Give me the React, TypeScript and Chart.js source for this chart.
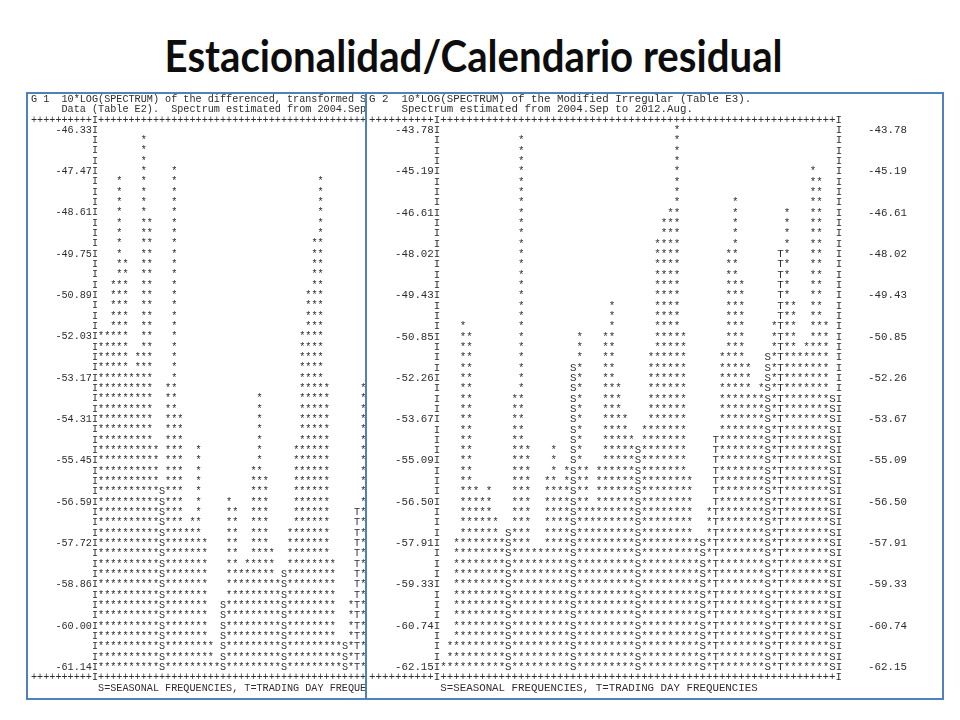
import React, { useEffect, useRef } from 'react';
import { Chart, registerables } from 'chart.js';

Chart.register(...registerables);

// ---------------- data ----------------
// frequency index k (frequency = k/120 cycles per month), 61 points 0..60
const frequencyIndex: number[] = Array.from({ length: 61 }, (_, k) => k);
const seasonalCols: number[] = [10, 20, 30, 40, 50, 60];
const tradingDayCols: number[] = [42, 52];

// G 1: 10*LOG(SPECTRUM) of the differenced, transformed seasonally adjusted data (Table E2)
const e2Spectrum: number[] = [
  -52.03, -52.03, -50.6, -47.75, -50.03, -53.17, -52.6, -46.61, -48.89, -55.16,
  -56.3, -53.45, -47.47, -54.3, -57.44, -57.15, -55.16, -57.72, -60.57, -61.14,
  -59.43, -56.58, -56.87, -58.58, -58.29, -55.73, -53.74, -56.01, -58.01, -58.86,
  -58.58, -57.44, -55.16, -52.03, -50.89, -49.46, -47.75, -53.45, -58.29, -60.57,
  -60.57, -59.43, -56.87, -53.45, -54.87, -54.3, -56.3, -57.72, -58.86, -58.29,
  -57.15, -57.72, -54.87, -55.73, -57.15, -59.15, -59.72, -57.72, -56.58, -58.29,
  -59.43,
];
const e2Ticks: string[] = [
  '-46.33', '-47.47', '-48.61', '-49.75', '-50.89', '-52.03', '-53.17',
  '-54.31', '-55.45', '-56.59', '-57.72', '-58.86', '-60.00', '-61.14',
];

// G 2: 10*LOG(SPECTRUM) of the Modified Irregular (Table E3)
const e3Spectrum: number[] = [
  -62.15, -61.44, -57.91, -50.49, -50.85, -56.14, -56.5, -56.14, -57.2, -57.91,
  -57.56, -52.97, -44.13, -54.73, -58.26, -58.26, -55.79, -54.73, -56.14, -55.44,
  -51.91, -50.85, -55.44, -56.85, -55.44, -50.85, -49.79, -52.61, -53.67, -54.38,
  -54.73, -54.02, -51.55, -47.67, -46.96, -46.61, -43.78, -50.85, -55.79, -57.91,
  -57.91, -56.85, -54.38, -51.55, -48.02, -46.25, -49.08, -51.91, -52.97, -52.61,
  -51.55, -50.49, -48.02, -46.61, -49.79, -51.55, -51.2, -45.19, -45.55, -50.49,
  -52.97,
];
const e3Ticks: string[] = [
  '-43.78', '-45.19', '-46.61', '-48.02', '-49.43', '-50.85', '-52.26',
  '-53.67', '-55.09', '-56.50', '-57.91', '-59.33', '-60.74', '-62.15',
];

const e2Header: string[] = [
  'G 1  10*LOG(SPECTRUM) of the differenced, transformed Seasonally Adjusted',
  '     Data (Table E2).  Spectrum estimated from 2004.Sep to 2012.Aug.',
];
const e3Header: string[] = [
  'G 2  10*LOG(SPECTRUM) of the Modified Irregular (Table E3).',
  '     Spectrum estimated from 2004.Sep to 2012.Aug.',
];
const footerText = '           S=SEASONAL FREQUENCIES, T=TRADING DAY FREQUENCIES';

// ---------------- layout constants ----------------
const RH = 10.33; // text row height
const ROWS = 53;
const CANVAS_H = Math.round(RH * 58);
const MONO = '"Liberation Mono", "DejaVu Sans Mono", monospace';
const INK = '#2e2e2e';
const BORDER = '#4f81bd';

const plusLine = '++++++++++I' + '+'.repeat(61) + 'I';

type PanelSpec = {
  values: number[];
  ticks: string[];
  header: string[];
  cw: number; // character pitch of this screenshot
};

function SpectrumPanel({ spec, left, top }: { spec: PanelSpec; left: number; top: number }) {
  const ref = useRef<HTMLCanvasElement>(null);
  const canvasW = Math.round(spec.cw * 83);

  useEffect(() => {
    const canvas = ref.current;
    if (!canvas) return;
    const CW = canvasW / 83;
    const fontPx = CW / 0.6;
    const topLevel = parseFloat(spec.ticks[0]);
    const bottomLevel = parseFloat(spec.ticks[spec.ticks.length - 1]);
    const step = (topLevel - bottomLevel) / (ROWS - 1);
    const tickValues = spec.ticks.map((_, i) => topLevel - i * 4 * step);
    const marks = frequencyIndex.map((k) =>
      seasonalCols.includes(k) ? 'S' : tradingDayCols.includes(k) ? 'T' : '*'
    );
    const font = { family: MONO, size: fontPx, lineHeight: RH + 'px' };

    const asciiPlugin = {
      id: 'asciiColumns',
      afterDatasetsDraw(chart: any) {
        const { ctx, chartArea, scales } = chart;
        const yScale = scales.y;
        const meta = chart.getDatasetMeta(0);
        const data = chart.data.datasets[0].data as number[];
        ctx.save();
        ctx.font = `${fontPx}px ${MONO}`;
        ctx.fillStyle = INK;
        ctx.textAlign = 'center';
        ctx.textBaseline = 'middle';
        for (let r = 0; r < ROWS; r++) {
          const level = topLevel - r * step;
          const py = yScale.getPixelForValue(level);
          ctx.fillText('I', chartArea.left - CW / 2, py);
          ctx.fillText('I', chartArea.right + CW / 2, py);
          meta.data.forEach((el: any, i: number) => {
            if (level <= data[i] + step / 2) ctx.fillText(marks[i], el.x, py);
          });
        }
        ctx.restore();
      },
    };

    const yAxis = (position: 'left' | 'right', ticks: string[]) => ({
      type: 'linear' as const,
      position,
      min: bottomLevel - step / 2,
      max: topLevel + step / 2,
      grid: { display: false, drawTicks: false },
      border: { display: false },
      ticks: {
        autoSkip: false,
        padding: CW,
        font,
        color: INK,
        callback: (_v: any, i: number) => (position === 'left' ? ticks[i] : '    ' + ticks[i]),
      },
      afterBuildTicks: (scale: any) => {
        scale.ticks = tickValues.map((value) => ({ value }));
      },
      afterFit: (scale: any) => {
        scale.width = 11 * CW;
      },
    });

    const chart = new Chart(canvas, {
      type: 'bar',
      data: {
        labels: frequencyIndex.map(String),
        datasets: [
          {
            data: spec.values,
            backgroundColor: 'rgba(0,0,0,0)',
            borderWidth: 0,
            yAxisID: 'y',
          },
        ],
      },
      options: {
        animation: false,
        responsive: false,
        events: [],
        layout: { padding: 0 },
        scales: {
          x: { type: 'category', display: false, offset: true },
          y: yAxis('left', spec.ticks) as any,
          y2: yAxis('right', spec.ticks) as any,
        },
        plugins: {
          legend: { display: false },
          tooltip: { enabled: false },
          title: {
            display: true,
            text: [...spec.header, plusLine],
            align: 'start',
            color: INK,
            font: { ...font, weight: 'normal' as const },
            padding: 0,
          },
          subtitle: {
            display: true,
            position: 'bottom',
            text: [plusLine, footerText],
            align: 'start',
            color: INK,
            font: { ...font, weight: 'normal' as const },
            padding: 0,
          },
        },
      },
      plugins: [asciiPlugin],
    });
    return () => chart.destroy();
  }, [spec, canvasW]);

  return (
    <canvas
      ref={ref}
      width={canvasW}
      height={CANVAS_H}
      style={{ position: 'absolute', left, top, width: canvasW, height: CANVAS_H }}
    />
  );
}

const e2Spec: PanelSpec = { values: e2Spectrum, ticks: e2Ticks, header: e2Header, cw: 6.1 };
const e3Spec: PanelSpec = { values: e3Spectrum, ticks: e3Ticks, header: e3Header, cw: 6.48 };

export default function App() {
  const titleRef = useRef<HTMLSpanElement>(null);
  useEffect(() => {
    const el = titleRef.current;
    if (!el) return;
    const w = el.getBoundingClientRect().width;
    if (w > 0) el.style.transform = `scaleX(${618 / w})`;
  }, []);

  return (
    <div
      style={{
        position: 'fixed',
        left: 0,
        top: 0,
        width: 960,
        height: 720,
        background: '#ffffff',
        overflow: 'hidden',
      }}
    >
      <div
        style={{
          position: 'absolute',
          left: 0,
          top: 34,
          width: 948,
          textAlign: 'center',
          fontFamily: 'Lato, "Open Sans", sans-serif',
          fontWeight: 700,
          fontSize: 43,
          lineHeight: '43px',
          color: '#0d0d0d',
          whiteSpace: 'nowrap',
        }}
      >
        <span ref={titleRef} style={{ display: 'inline-block', transformOrigin: 'center' }}>
          Estacionalidad/Calendario residual
        </span>
      </div>

      <div
        style={{
          position: 'absolute',
          left: 26,
          top: 92,
          width: 350,
          height: 608,
          border: `2px solid ${BORDER}`,
          boxSizing: 'border-box',
        }}
      />
      <SpectrumPanel spec={e2Spec} left={31} top={94} />

      <div
        style={{
          position: 'absolute',
          left: 365,
          top: 92,
          width: 579,
          height: 608,
          border: `2px solid ${BORDER}`,
          boxSizing: 'border-box',
          background: '#ffffff',
        }}
      />
      <SpectrumPanel spec={e3Spec} left={369} top={94} />
    </div>
  );
}
